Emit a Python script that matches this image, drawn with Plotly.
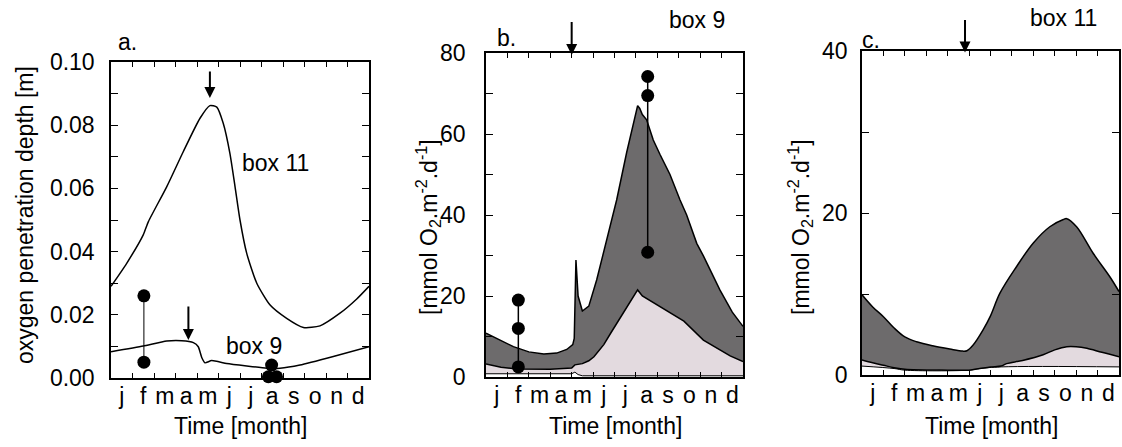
import plotly.graph_objects as go

# ---------------- data ----------------
months = ["j", "f", "m", "a", "m", "j", "j", "a", "s", "o", "n", "d"]
month_pos = [0.5, 1.5, 2.5, 3.5, 4.5, 5.5, 6.5, 7.5, 8.5, 9.5, 10.5, 11.5]
month_bounds = [1, 2, 3, 4, 5, 6, 7, 8, 9, 10, 11]

# panel a: oxygen penetration depth [m]
a_box11_x = [0, 0.73, 1.5, 1.74, 2.59, 3.36, 4.14, 4.6, 4.92, 5.22, 5.53, 5.77, 6.0, 6.31, 6.78, 7.4, 8.17, 8.95, 9.72, 10.65, 11.43, 12]
a_box11_y = [0.029, 0.0363, 0.0453, 0.0495, 0.0605, 0.0716, 0.0822, 0.0862, 0.0857, 0.0806, 0.0711, 0.0605, 0.050, 0.0395, 0.030, 0.0231, 0.0189, 0.0160, 0.0165, 0.0205, 0.0250, 0.029]
a_box9_x = [0, 1.5, 2.59, 3.29, 3.83, 4.06, 4.22, 4.37, 4.68, 5.38, 6.31, 7.24, 7.86, 8.79, 10.34, 12]
a_box9_y = [0.0083, 0.0101, 0.0117, 0.0118, 0.0112, 0.0099, 0.0065, 0.0048, 0.0055, 0.0046, 0.0038, 0.0031, 0.0031, 0.0041, 0.0068, 0.0099]
a_feb_x = [1.53, 1.53]
a_feb_y = [0.026, 0.005]
a_aug_x = [7.47, 7.32, 7.7]
a_aug_y = [0.0041, 0.0004, 0.0004]

# panel b: box 9 fluxes [mmol O2 m-2 d-1]
b_total_x = [0, 0.6, 1.28, 2.0, 2.7, 3.3, 3.77, 4.05, 4.12, 4.2, 4.3, 4.5, 4.8, 5.17, 5.63, 6.1, 6.57, 6.88, 7.08, 7.18, 7.3, 7.5, 7.81, 8.12, 8.59, 9.06, 9.37, 9.84, 10.15, 10.92, 11.5, 12]
b_total_y = [10.8, 9.3, 7.5, 6.2, 5.7, 5.9, 6.8, 8.0, 9.5, 28.9, 20.0, 16.3, 17.5, 24.0, 34.0, 43.7, 55.5, 62.6, 67.0, 66.3, 64.8, 63.5, 58.5, 55.0, 50.0, 43.7, 40.0, 33.0, 29.9, 21.5, 16.0, 12.5]
b_light_x = [0, 0.7, 1.5, 3.0, 4.0, 4.15, 4.5, 4.8, 5.04, 5.5, 5.82, 6.2, 6.6, 7.08, 7.3, 7.8, 8.59, 9.24, 10.15, 10.8, 11.4, 12]
b_light_y = [3.2, 2.4, 2.0, 1.9, 2.2, 3.0, 3.3, 4.0, 5.0, 8.0, 10.8, 14.0, 17.4, 21.5, 20.0, 18.4, 15.7, 13.8, 9.1, 7.0, 5.2, 3.8]
b_bottom_x = [0, 2.0, 4.0, 4.15, 4.3, 4.5, 12]
b_bottom_y = [0.8, 0.8, 0.8, 1.2, 0.6, 0.3, 0.3]
b_feb_x = [1.51, 1.51, 1.51]
b_feb_y = [19.0, 12.0, 2.5]
b_aug_x = [7.55, 7.55, 7.55]
b_aug_y = [74.2, 69.5, 30.8]

# panel c: box 11 fluxes [mmol O2 m-2 d-1]
c_total_x = [0, 0.5, 1.0, 1.5, 2.0, 2.55, 3.3, 4.1, 4.7, 4.9, 5.19, 5.66, 6.0, 6.44, 7.22, 8.0, 8.77, 9.4, 9.56, 10.02, 10.8, 11.58, 12]
c_total_y = [9.9, 8.4, 7.2, 5.8, 4.7, 4.1, 3.6, 3.2, 2.95, 3.0, 3.7, 5.6, 7.3, 10.1, 13.4, 16.3, 18.3, 19.2, 19.3, 18.3, 15.0, 12.1, 10.3]
c_light_x = [0, 0.5, 1.0, 1.5, 2.0, 4.0, 5.0, 5.5, 6.0, 6.5, 6.75, 7.5, 8.46, 9.0, 9.56, 10.0, 10.5, 11.2, 12]
c_light_y = [1.85, 1.5, 1.2, 0.9, 0.7, 0.6, 0.6, 0.8, 1.0, 1.1, 1.4, 1.8, 2.5, 3.1, 3.5, 3.5, 3.3, 2.8, 2.26]
c_bottom_x = [0, 1.5, 2.0, 5.0, 5.5, 6.5, 12]
c_bottom_y = [1.1, 0.8, 0.6, 0.6, 0.8, 1.0, 1.0]

# arrows (x, tail y, head y)
arrow_a11 = (4.6, 0.0975, 0.0886)
arrow_a9 = (3.6, 0.0231, 0.0120)
arrow_b = (4.0, 88.0, 79.5)
arrow_c = (4.81, 44.0, 39.8)

# ---------------- styling ----------------
FONT = "Liberation Sans, Arial, Helvetica, sans-serif"
FS = 23
DARK = "#6d6b6c"
LIGHT = "#e3dadf"
W, H = 1122, 447

def px_x(p):
    return p / W

def px_y(p):
    return 1 - p / H

fig = go.Figure()

line_style = dict(color="black", width=1.5)

# panel a
fig.add_trace(go.Scatter(x=a_box11_x, y=a_box11_y, mode="lines", line=dict(color="black", width=1.5, shape="spline", smoothing=0.6), xaxis="x", yaxis="y"))
fig.add_trace(go.Scatter(x=a_box9_x, y=a_box9_y, mode="lines", line=dict(color="black", width=1.5, shape="spline", smoothing=0.5), xaxis="x", yaxis="y"))
fig.add_trace(go.Scatter(x=a_feb_x, y=a_feb_y, mode="lines+markers", line=dict(color="black", width=1), marker=dict(size=13, color="black"), xaxis="x", yaxis="y", cliponaxis=False))
fig.add_trace(go.Scatter(x=a_aug_x, y=a_aug_y, mode="markers", marker=dict(size=13, color="black"), xaxis="x", yaxis="y", cliponaxis=False))

# panel b
fig.add_trace(go.Scatter(x=b_bottom_x, y=b_bottom_y, mode="lines", line=dict(color="black", width=1), fill="tozeroy", fillcolor="white", xaxis="x2", yaxis="y2"))
fig.add_trace(go.Scatter(x=b_light_x, y=b_light_y, mode="lines", line=line_style, fill="tonexty", fillcolor=LIGHT, xaxis="x2", yaxis="y2"))
fig.add_trace(go.Scatter(x=b_total_x, y=b_total_y, mode="lines", line=line_style, fill="tonexty", fillcolor=DARK, xaxis="x2", yaxis="y2"))
fig.add_trace(go.Scatter(x=b_feb_x, y=b_feb_y, mode="lines+markers", line=dict(color="black", width=1.5), marker=dict(size=13, color="black"), xaxis="x2", yaxis="y2", cliponaxis=False))
fig.add_trace(go.Scatter(x=b_aug_x, y=b_aug_y, mode="lines+markers", line=dict(color="black", width=1.5), marker=dict(size=13, color="black"), xaxis="x2", yaxis="y2", cliponaxis=False))

# panel c
fig.add_trace(go.Scatter(x=c_bottom_x, y=c_bottom_y, mode="lines", line=dict(color="black", width=1, shape="spline"), fill="tozeroy", fillcolor="white", xaxis="x3", yaxis="y3"))
fig.add_trace(go.Scatter(x=c_light_x, y=c_light_y, mode="lines", line=dict(color="black", width=1.5, shape="spline"), fill="tonexty", fillcolor=LIGHT, xaxis="x3", yaxis="y3"))
fig.add_trace(go.Scatter(x=c_total_x, y=c_total_y, mode="lines", line=dict(color="black", width=1.5, shape="spline"), fill="tonexty", fillcolor=DARK, xaxis="x3", yaxis="y3"))

def xax(dom, anchor):
    return dict(domain=dom, anchor=anchor, range=[0, 12], showgrid=False, zeroline=False,
                showline=True, linecolor="black", linewidth=1.5, mirror="allticks",
                tickmode="array", tickvals=month_pos, ticktext=months, ticks="",
                ticklabelstandoff=-3,
                minor=dict(tickmode="array", tickvals=month_bounds, ticks="inside", ticklen=5, tickwidth=1, tickcolor="black"),
                tickfont=dict(family=FONT, size=FS, color="black"), automargin=False, fixedrange=True)

def yax(dom, anchor, rng, dtick, minor_dtick, fmt, standoff):
    return dict(domain=dom, anchor=anchor, range=rng, showgrid=False, zeroline=False,
                showline=True, linecolor="black", linewidth=1.5, mirror="allticks",
                dtick=dtick, tick0=0, ticks="inside", ticklen=7, tickwidth=1, tickcolor="black",
                tickformat=fmt, ticklabelstandoff=standoff,
                minor=dict(dtick=minor_dtick, tick0=0, ticks="inside", ticklen=7, tickwidth=1, tickcolor="black"),
                tickfont=dict(family=FONT, size=FS, color="black"), automargin=False, fixedrange=True)

fig.update_layout(
    width=W, height=H, margin=dict(l=0, r=0, t=0, b=0),
    paper_bgcolor="white", plot_bgcolor="white", showlegend=False,
    font=dict(family=FONT, size=FS, color="black"),
    xaxis=xax([px_x(111), px_x(369)], "y"),
    yaxis=yax([px_y(378), px_y(62)], "x", [0, 0.1], 0.02, 0.01, ".2f", 10),
    xaxis2=xax([px_x(486), px_x(743)], "y2"),
    yaxis2=yax([px_y(377), px_y(53)], "x2", [0, 80], 20, 10, "d", 14),
    xaxis3=xax([px_x(862), px_x(1119)], "y3"),
    yaxis3=yax([px_y(375), px_y(51)], "x3", [0, 40], 20, 10, "d", 8),
)

ann = []
def text(x, y, s, angle=0):
    ann.append(dict(xref="paper", yref="paper", x=px_x(x), y=px_y(y), text=s, showarrow=False,
                    xanchor="center", yanchor="middle", textangle=angle,
                    font=dict(family=FONT, size=FS, color="black")))

text(127, 42, "a.")
text(506, 38, "b.")
text(871, 40, "c.")
text(275, 163, "box 11")
text(254, 346, "box 9")
text(697, 20, "box 9")
text(1063, 18, "box 11")
text(240, 426, "Time [month]")
text(615, 426, "Time [month]")
text(991, 426, "Time [month]")
text(25, 215, "oxygen penetration depth [m]", -90)
text(428, 227, "[mmol O<sub>2</sub>.m<sup>-2</sup>.d<sup>-1</sup>]", -90)
text(800, 227, "[mmol O<sub>2</sub>.m<sup>-2</sup>.d<sup>-1</sup>]", -90)

def arrow(xa, ya, a):
    x, tail, head = a
    ann.append(dict(xref=xa, yref=ya, axref=xa, ayref=ya, x=x, y=head, ax=x, ay=tail,
                    text="", showarrow=True, arrowhead=2, arrowsize=1.1, arrowwidth=2, arrowcolor="black"))

arrow("x", "y", arrow_a11)
arrow("x", "y", arrow_a9)
arrow("x2", "y2", arrow_b)
arrow("x3", "y3", arrow_c)

fig.update_layout(annotations=ann)
fig.write_html("out.html")
